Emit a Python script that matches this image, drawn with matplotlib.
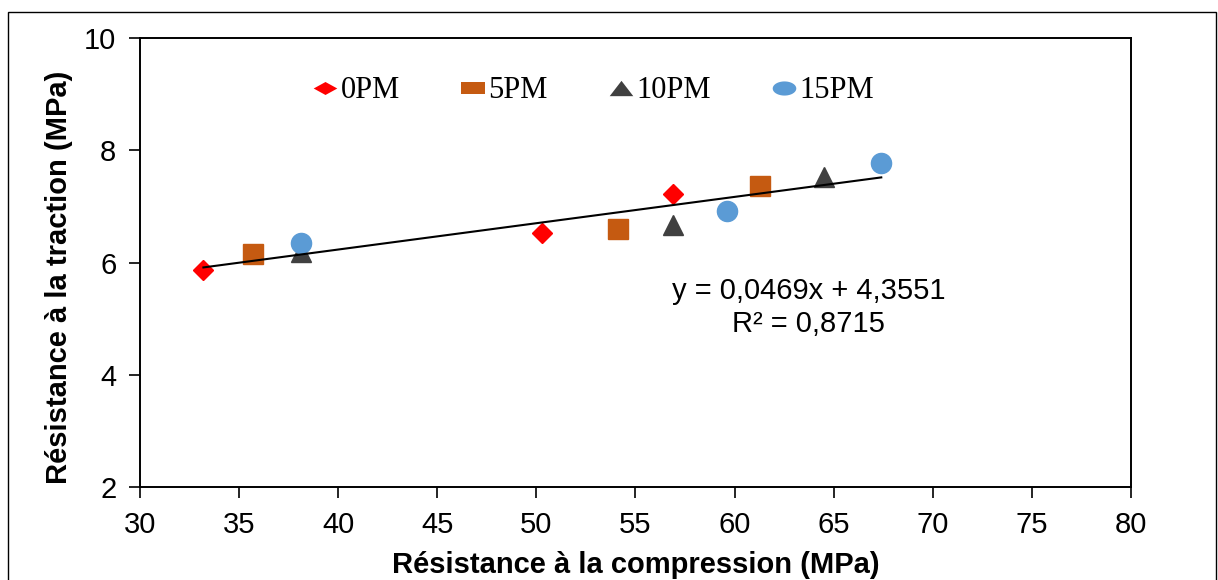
import matplotlib
matplotlib.use('Agg')
import matplotlib.pyplot as plt
from matplotlib.patches import Rectangle
from matplotlib.lines import Line2D
import numpy as np

# data
x_0pm = [33.2, 50.3, 56.9]
y_0pm = [5.86, 6.52, 7.22]
x_5pm = [35.7, 54.1, 61.3]
y_5pm = [6.15, 6.59, 7.37]
x_10pm = [38.1, 56.9, 64.5]
y_10pm = [6.18, 6.66, 7.52]
x_15pm = [38.1, 59.6, 67.4]
y_15pm = [6.35, 6.92, 7.78]
slope, intercept = 0.0469, 4.3551
eq_text = 'y = 0,0469x + 4,3551\nR² = 0,8715'
labels = ['0PM', '5PM', '10PM', '15PM']
colors = ['#ff0000', '#c55a11', '#404040', '#5b9bd5']

plt.rcParams.update({'font.family': 'Liberation Sans'})
fig = plt.figure(figsize=(12.18, 5.8), dpi=100)
ax = fig.add_axes([140/1218, 93/580, 991/1218, 449/580])

ax.plot(x_0pm, y_0pm, 'D', color=colors[0], ms=10, ls='none')
ax.plot(x_5pm, y_5pm, 's', color=colors[1], ms=14, ls='none')
ax.plot(x_10pm, y_10pm, '^', color=colors[2], ms=14, ls='none')
ax.plot(x_15pm, y_15pm, 'o', color=colors[3], ms=14.5, ls='none')

allx = x_0pm + x_5pm + x_10pm + x_15pm
xx = np.array([min(allx), max(allx)])
ax.plot(xx, slope*xx + intercept, '-', color='black', lw=1.5)

ax.text(0.675, 0.40, eq_text, fontsize=21,
        ha='center', va='center', linespacing=1.2, transform=ax.transAxes)

ax.set_xlim(30, 80)
ax.set_ylim(2, 10)
ax.set_xticks(np.arange(30, 81, 5))
ax.set_yticks([2, 4, 6, 8, 10])
ax.tick_params(labelsize=21, length=8, width=1.2, direction='out', pad=9)
ax.set_xlabel('Résistance à la compression (MPa)', fontsize=21, fontweight='bold', labelpad=9)
ax.set_ylabel('Résistance à la traction (MPa)', fontsize=21, fontweight='bold')
ax.yaxis.set_label_coords(-0.068, 0.468)
for s in ax.spines.values():
    s.set_linewidth(1.4)

# legend markers look stretched sideways in the original
t = np.linspace(0, 2*np.pi, 40)
leg_markers = [
    [(-1, 0), (0, 0.55), (1, 0), (0, -0.55), (-1, 0)],
    [(-1, -0.5), (1, -0.5), (1, 0.5), (-1, 0.5), (-1, -0.5)],
    [(-1, -0.65), (1, -0.65), (0, 0.65), (-1, -0.65)],
    list(zip(np.cos(t), 0.6*np.sin(t))),
]
handles = [Line2D([], [], ls='none', marker=m, color=c, ms=17, mew=0)
           for m, c in zip(leg_markers, colors)]
ax.legend(handles, labels, loc='center', bbox_to_anchor=(0.4576, 0.882), ncol=4, frameon=False,
          prop={'family': 'Liberation Serif', 'size': 22}, handletextpad=0.1,
          columnspacing=2.0, handlelength=0.8)

fig.patches.append(Rectangle((8/1218, -0.05), 1208/1218, 1.05 - 12/580, transform=fig.transFigure,
                             fill=False, edgecolor='black', lw=1.0))
fig.savefig('out.png', dpi=100)
